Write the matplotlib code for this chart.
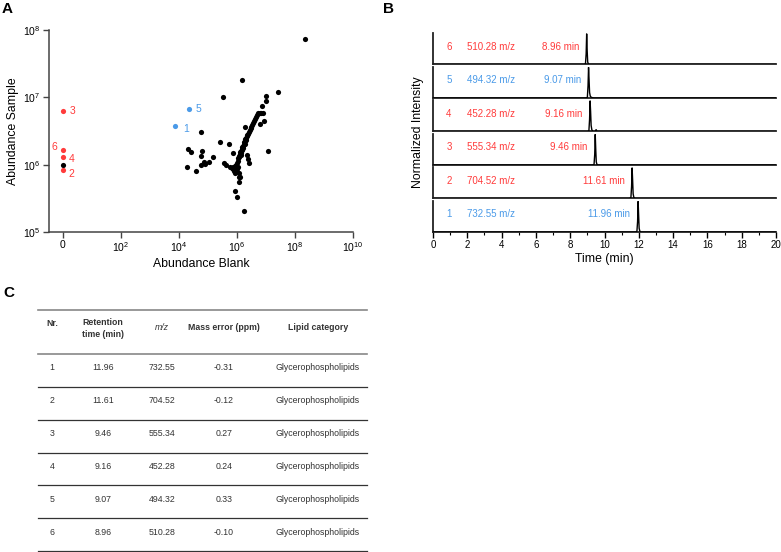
import numpy as np
import matplotlib
matplotlib.use("Agg")
import matplotlib.pyplot as plt
from matplotlib.lines import Line2D

plt.rcParams["font.family"] = ["Liberation Sans", "DejaVu Sans"]
plt.rcParams["mathtext.fontset"] = "custom"
plt.rcParams["mathtext.rm"] = "Liberation Sans"
plt.rcParams["mathtext.it"] = "Liberation Sans:italic"

RED = "#ff3b3b"
BLUE = "#4a9ae8"

# ---- compounds (table C / panel B) ----
nr = [1, 2, 3, 4, 5, 6]
rt = [11.96, 11.61, 9.46, 9.16, 9.07, 8.96]
mz = [732.55, 704.52, 555.34, 452.28, 494.32, 510.28]
mass_err = [-0.31, -0.12, 0.27, 0.24, 0.33, -0.10]
category = ["Glycerophospholipids"] * 6
cmp_color = [BLUE, RED, RED, RED, BLUE, RED]

# ---- panel A: log10 abundances (blank = 0 plotted at "0") ----
bg_blank_log = [8.34, 6.18, 5.52, 7.41, 7.01, 7.00, 6.87, 6.94, 6.79, 7.08, 6.26,
                4.76, 5.43, 5.73, 4.32, 4.41, 4.80, 4.75, 5.16, 5.03, 4.87, 4.90,
                4.76, 4.29, 4.58, 5.55, 5.61, 5.87, 6.35, 6.37, 6.42, 6.13, 6.07,
                6.10, 6.07, 5.93, 5.99, 6.25, 6.06, 6.08,
                5.95, 5.99, 6.02, 6.05, 6.08, 6.10, 6.12, 6.15, 6.17, 6.19, 6.21,
                6.23, 6.25, 6.27, 6.29, 6.31, 6.33, 6.35, 6.38, 6.41, 6.44, 6.47,
                6.50, 6.53, 6.56, 6.59, 6.62, 6.66, 6.70, 6.74, 6.79, 6.84, 6.89,
                6.22, 6.26, 6.30, 6.18, 6.14,
                5.75, 5.82, 5.86, 5.90, 5.93, 5.96, 5.99, 6.02, 5.88, 5.92, 0.0]
bg_sample_log = [7.87, 7.26, 7.00, 7.08, 7.02, 6.94, 6.875, 6.65, 6.61, 6.21, 6.56,
                 6.48, 6.34, 6.30, 6.23, 6.19, 6.20, 6.13, 6.11, 6.04, 6.04, 6.01,
                 6.00, 5.97, 5.91, 6.02, 6.00, 6.17, 6.15, 6.09, 6.02, 6.15, 6.11,
                 5.81, 5.75, 5.61, 5.52, 5.31, 5.88, 5.82,
                 5.99, 6.02, 6.06, 6.10, 6.13, 6.16, 6.19, 6.21, 6.24, 6.26, 6.28,
                 6.30, 6.33, 6.35, 6.38, 6.40, 6.42, 6.44, 6.46, 6.49, 6.51, 6.54,
                 6.56, 6.59, 6.62, 6.65, 6.68, 6.71, 6.74, 6.76, 6.77, 6.77, 6.76,
                 6.25, 6.30, 6.36, 6.22, 6.18,
                 5.97, 5.95, 5.93, 5.90, 5.87, 5.90, 5.94, 5.97, 5.96, 5.98, 6.00]
# highlighted compounds 1..6
hl_blank_log = [3.86, 0.0, 0.0, 0.0, 4.34, 0.0]
hl_sample_log = [6.57, 5.92, 6.79, 6.12, 6.83, 6.22]
hl_offsets = [(6, -2), (4, -3), (5, 0), (4, -2), (5, 0), (-4, 2)]

# ---- panel B: peak shape (time offset from RT, normalized intensity) ----
peak_dt = [-0.16, -0.07, -0.03, 0.0, 0.03, 0.06, 0.10, 0.16, 0.30, 0.35, 0.40]
peak_int = [
    [0, 0.02, 0.35, 1.00, 0.55, 0.12, 0.03, 0, 0, 0, 0],
    [0, 0.03, 0.40, 1.00, 0.60, 0.15, 0.04, 0, 0, 0, 0],
    [0, 0.02, 0.35, 1.00, 0.50, 0.10, 0.02, 0, 0, 0, 0],
    [0, 0.02, 0.40, 1.00, 0.65, 0.20, 0.06, 0, 0, 0.06, 0],
    [0, 0.02, 0.40, 1.00, 0.60, 0.18, 0.06, 0.02, 0, 0, 0],
    [0, 0.02, 0.35, 1.00, 0.45, 0.08, 0.02, 0, 0, 0, 0],
]

W, H = 781, 552
fig = plt.figure(figsize=(W / 100, H / 100), dpi=100)


def fx(px):
    return px / W


def fy(py):
    return 1 - py / H


# ================= Panel A =================
axA = fig.add_axes([fx(49), fy(232), fx(353) - fx(49), fy(30) - fy(232)])
axA.scatter(bg_blank_log, 10 ** np.array(bg_sample_log), s=14, color="black",
            linewidths=0, zorder=3)
for i in range(6):
    axA.scatter(hl_blank_log[i], 10 ** hl_sample_log[i], s=14, color=cmp_color[i],
                linewidths=0, zorder=4)
    dx, dy = hl_offsets[i]
    axA.annotate(str(nr[i]), (hl_blank_log[i], 10 ** hl_sample_log[i]),
                 xytext=(dx, dy), textcoords="offset points",
                 ha="right" if dx < 0 else "left", va="center",
                 color=cmp_color[i], fontsize=7.5)
axA.set_yscale("log")
axA.set_ylim(1e5, 1e8)
axA.set_xlim(-0.48, 10)
axA.set_yticks([1e5, 1e6, 1e7, 1e8])
axA.set_yticklabels([r"$10^5$", r"$10^6$", r"$10^7$", r"$10^8$"])
axA.yaxis.set_minor_locator(matplotlib.ticker.NullLocator())
axA.set_xticks([0, 2, 4, 6, 8, 10])
axA.set_xticklabels(["0", r"$10^2$", r"$10^4$", r"$10^6$", r"$10^8$", r"$10^{10}$"])
for s in ["top", "right"]:
    axA.spines[s].set_visible(False)
for s in ["left", "bottom"]:
    axA.spines[s].set_color("#444444")
    axA.spines[s].set_linewidth(1.1)
axA.tick_params(labelsize=7.5, length=4, width=1, color="#444444", pad=2)
axA.set_xlabel("Abundance Blank", fontsize=8.8, labelpad=3)
axA.set_ylabel("Abundance Sample", fontsize=8.8, labelpad=3)

# ================= Panel B =================
n = len(nr)
gs = fig.add_gridspec(n, 1, left=fx(433), right=fx(776), bottom=fy(232), top=fy(33),
                      hspace=0.065)
for row in range(n):
    i = n - 1 - row  # top row is compound 6
    ax = fig.add_subplot(gs[row, 0])
    t = [0] + [rt[i] + d for d in peak_dt] + [20]
    y = [0] + peak_int[i] + [0]
    ax.plot(t, y, color="black", lw=1.0, zorder=3)
    ax.set_xlim(0, 20)
    ax.set_ylim(0, 1.03)
    for s in ["top", "right"]:
        ax.spines[s].set_visible(False)
    for s in ["left", "bottom"]:
        ax.spines[s].set_color("#222222")
        ax.spines[s].set_linewidth(1.3)
    ax.set_yticks([])
    c = cmp_color[i]
    ax.text(0.93, 0.58, str(nr[i]), color=c, fontsize=7, ha="center", va="center")
    ax.text(2.0, 0.58, f"{mz[i]:.2f} m/z", color=c, fontsize=7, ha="left", va="center")
    ax.text(rt[i] - 0.45, 0.58, f"{rt[i]:.2f} min", color=c, fontsize=7, ha="right",
            va="center")
    if row == n - 1:
        ax.set_xticks(range(0, 21, 2))
        ax.set_xticks(range(0, 21, 1), minor=True)
        ax.tick_params(axis="x", which="major", labelsize=7, length=4, width=1, pad=2)
        ax.tick_params(axis="x", which="minor", length=2.5, width=0.8)
        ax.set_xlabel("Time (min)", fontsize=8.8, labelpad=2)
    else:
        ax.set_xticks([])
fig.text(fx(418), fy(132.5), "Normalized Intensity", rotation=90, fontsize=8.8,
         ha="center", va="center")

# ================= Panel C (table) =================
x0, x1 = fx(37.7), fx(367)
line_y = [310, 353.7, 386.7, 419.5, 452.5, 485.3, 518.3, 550.8]
for k, ly in enumerate(line_y):
    col = "#888888" if k < 2 else "#333333"
    lw = 1.2 if k < 2 else 0.9
    fig.add_artist(Line2D([x0, x1], [fy(ly), fy(ly)], color=col, lw=lw))
col_x = [52, 103, 162, 224, 318]
tcol = "#333333"
fig.text(fx(col_x[0]), fy(323.5), "Nr.", fontsize=6.3, fontweight="bold",
         ha="center", va="center", color=tcol)
fig.text(fx(col_x[1]), fy(328.5), "Retention\ntime (min)", fontsize=6.3,
         fontweight="bold", ha="center", va="center", color=tcol, linespacing=1.3)
fig.text(fx(col_x[2]), fy(328), "m/z", fontsize=6.3, style="italic",
         ha="center", va="center", color=tcol)
fig.text(fx(col_x[3]), fy(328), "Mass error (ppm)", fontsize=6.3, fontweight="bold",
         ha="center", va="center", color=tcol)
fig.text(fx(col_x[4]), fy(328), "Lipid category", fontsize=6.3, fontweight="bold",
         ha="center", va="center", color=tcol)
for i in range(n):
    yy = fy(367.7 + 32.9 * i)
    vals = [str(nr[i]), f"{rt[i]:.2f}", f"{mz[i]:.2f}", f"{mass_err[i]:.2f}", category[i]]
    for cx, v in zip(col_x, vals):
        fig.text(fx(cx), yy, v, fontsize=6.3, ha="center", va="center", color=tcol)

# panel letters
for letter, px, py in [("A", 2, 2), ("B", 383, 2), ("C", 3, 286)]:
    fig.text(fx(px), fy(py), letter, fontsize=11, fontweight="bold", ha="left",
             va="top")

fig.savefig("out.png", dpi=100)
